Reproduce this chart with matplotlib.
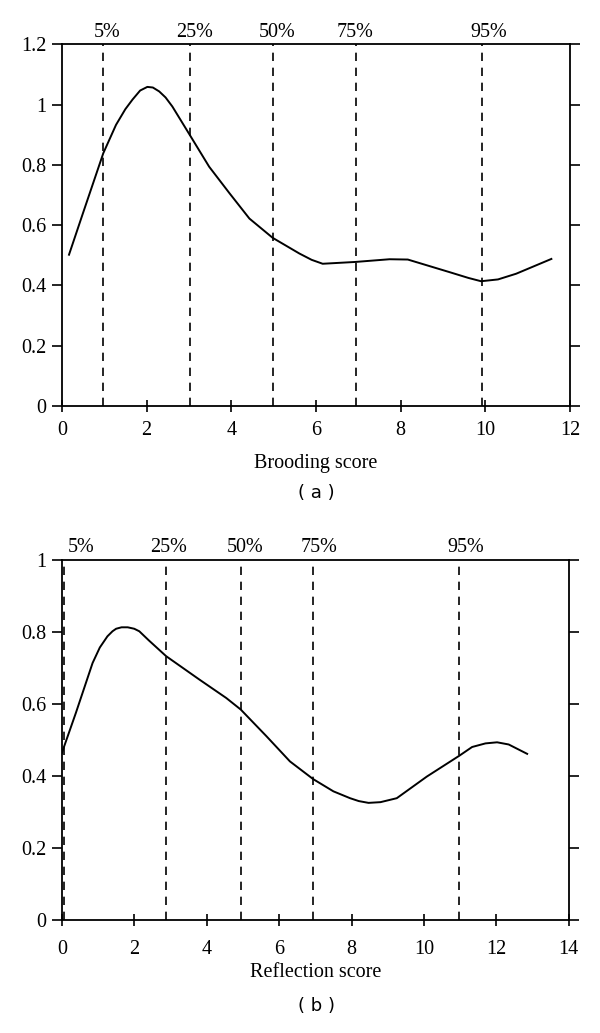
import matplotlib.pyplot as plt

plt.rcParams['font.family'] = ['Liberation Serif', 'DejaVu Serif']

# panel (a): brooding score
brood_x = [0.17, 0.5, 0.98, 1.28, 1.50, 1.67, 1.85, 2.02, 2.15, 2.30, 2.45, 2.61, 3.02, 3.48,
           3.96, 4.43, 4.98, 5.61, 5.90, 6.16, 6.93, 7.74, 8.17, 9.16, 9.60, 9.90, 10.30,
           10.73, 11.56]
brood_y = [0.502, 0.64, 0.839, 0.933, 0.985, 1.017, 1.047, 1.059, 1.057, 1.044, 1.024, 0.994,
           0.90, 0.794, 0.706, 0.622, 0.558, 0.506, 0.485, 0.472, 0.478, 0.487, 0.486, 0.444,
           0.425, 0.414, 0.420, 0.439, 0.488]
brood_pct = [0.98, 3.02, 4.98, 6.95, 9.93]

# panel (b): reflection score
refl_x = [0.0, 0.39, 0.85, 1.05, 1.26, 1.40, 1.50, 1.65, 1.82, 2.0, 2.14, 2.40, 2.88, 3.80,
          4.54, 4.94, 5.65, 6.30, 6.94, 7.50, 7.96, 8.20, 8.47, 8.80, 9.25, 10.08, 10.98,
          11.33, 11.70, 12.02, 12.34, 12.85]
refl_y = [0.464, 0.576, 0.714, 0.757, 0.788, 0.802, 0.809, 0.813, 0.813, 0.809, 0.802, 0.777,
          0.733, 0.668, 0.617, 0.585, 0.511, 0.441, 0.392, 0.358, 0.339, 0.331, 0.326, 0.328,
          0.339, 0.399, 0.457, 0.481, 0.491, 0.494, 0.488, 0.462]
refl_pct = [0.07, 2.88, 4.94, 6.94, 10.98]

pct_labels = ['5%', '25%', '50%', '75%', '95%']

fig = plt.figure(figsize=(6, 10.33), dpi=100)
ax1 = fig.add_axes([0.103, 0.607, 0.847, 0.350])
ax2 = fig.add_axes([0.103, 0.109, 0.845, 0.349])


def style(ax, xmax, ymax, ystep, pct, lab_shift, xlabel, xpad, lpad):
    ax.set_xlim(0, xmax)
    ax.set_ylim(0, ymax)
    ax.set_xticks(range(0, xmax + 1, 2))
    yt = [round(i * ystep, 1) for i in range(int(round(ymax / ystep)) + 1)]
    ax.set_yticks(yt)
    ax.set_yticklabels([f'{v:g}' for v in yt])
    ax.tick_params(axis='x', direction='inout', length=8, width=1.2, labelsize=14.5, pad=xpad)
    ax.tick_params(axis='y', direction='out', length=7, width=1.2, labelsize=14.5,
                   right=True, pad=4)
    for s in ax.spines.values():
        s.set_linewidth(1.3)
    for p, lab, sh in zip(pct, pct_labels, lab_shift):
        ax.axvline(p, color='black', linestyle=(0, (5, 4)), linewidth=1.2)
        ax.annotate(lab, xy=(p + sh, 1), xycoords=('data', 'axes fraction'),
                    xytext=(0, 2), textcoords='offset points',
                    ha='center', va='bottom', fontsize=14.5)
    ax.set_xlabel(xlabel, fontsize=14.5, labelpad=lpad)


ax1.plot(brood_x, brood_y, color='black', linewidth=1.4)
style(ax1, 12, 1.2, 0.2, brood_pct, [0.1, 0.12, 0.1, -0.02, 0.15], 'Brooding score', 7, 10)

ax2.plot(refl_x, refl_y, color='black', linewidth=1.4)
style(ax2, 14, 1.0, 0.2, refl_pct, [0.45, 0.07, 0.12, 0.17, 0.17], 'Reflection score', 10, 3)

fig.text(0.527, 0.523, '( a )', ha='center', va='center', fontsize=13, family='DejaVu Sans')
fig.text(0.527, 0.026, '( b )', ha='center', va='center', fontsize=13, family='DejaVu Sans')

fig.savefig('out.png', dpi=100)
